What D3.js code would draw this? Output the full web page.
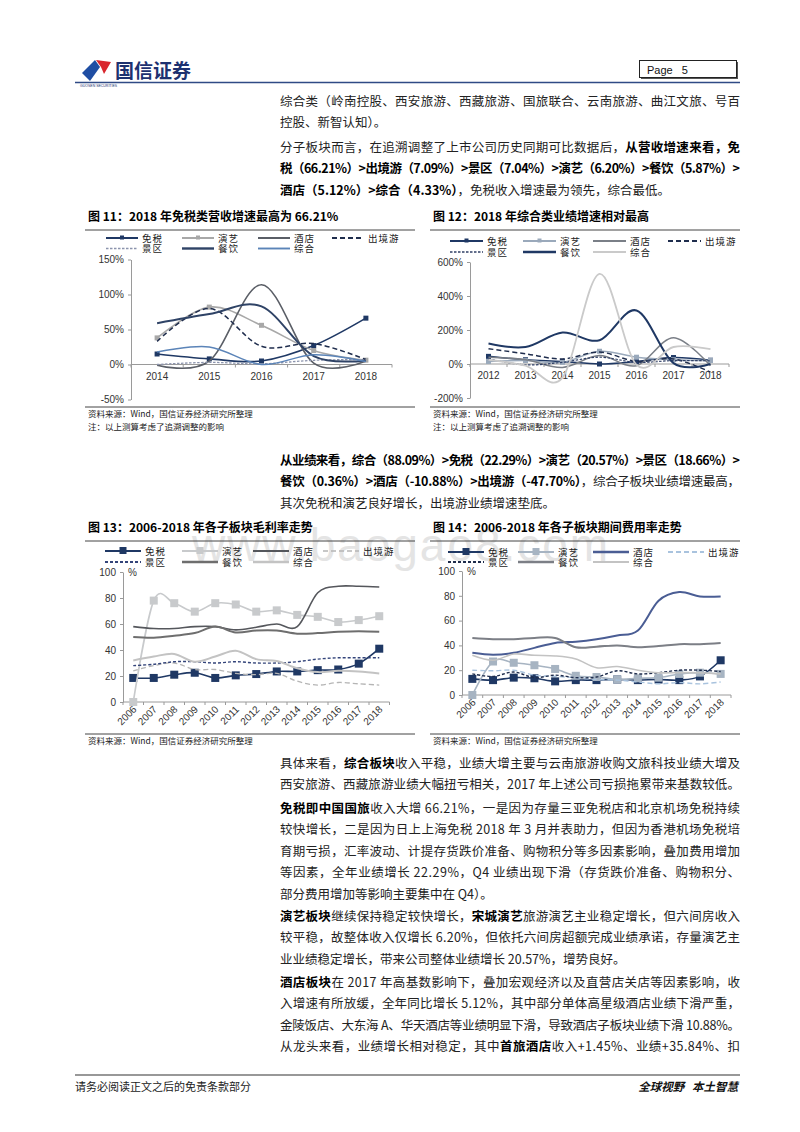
<!DOCTYPE html>
<html lang="zh">
<head>
<meta charset="utf-8">
<title>国信证券 Page 5</title>
<style>
  body { margin: 0; background: #fff; }
  svg text { font-family: "Noto Sans CJK SC", sans-serif; }
  .num { font-family: "Liberation Sans", Arial, sans-serif; }
</style>
<script src="https://cdn.jsdelivr.net/npm/d3@7"></script>
</head>
<body>
<script>

var W = 800, H = 1132;

// ---------- data ----------
var sectors = ["免税", "演艺", "酒店", "出境游", "景区", "餐饮", "综合"];

// 图11: revenue growth (%), rows follow sectors
var years11 = ["2014", "2015", "2016", "2017", "2018"];
var revGrowth11 = [
  [15, 8, 5, 27, 66.21],
  [38, 82, 56, 20, 6.20],
  [-1, 5, 114, 2, 5.12],
  [33, 80, 26, 30, 7.09],
  [0, 3, 1, 6, 7.04],
  [59, 72, 83, 12, 5.87],
  [18, 25, 0, 14, 4.33]
];
var ticks11 = [-50, 0, 50, 100, 150];

// 图12: profit growth (%)
var years12 = ["2012", "2013", "2014", "2015", "2016", "2017", "2018"];
var profitGrowth12 = [
  [45, 25, 15, 0, 15, 38, 22.29],
  [15, 20, 10, 75, 40, 25, 20.57],
  [40, 25, -20, 50, -10, 155, -10.88],
  [90, 60, 30, 70, 15, 30, -47.70],
  [30, -5, 10, 40, 10, 20, 18.66],
  [120, 100, 185, 140, 315, 5, 0.36],
  [25, -10, -80, 530, -5, 100, 88.09]
];
var ticks12 = [-200, 0, 200, 400, 600];

// 图13: gross margin (%), 图14: period expense ratio (%)
var years13 = ["2006", "2007", "2008", "2009", "2010", "2011", "2012",
               "2013", "2014", "2015", "2016", "2017", "2018"];
var grossMargin13 = [
  [18.5, 18.5, 21, 22.5, 18.5, 20.5, 21.5, 23.5, 23.5, 24.5, 25, 29.5, 41],
  [0, 78, 76, 69.5, 76, 75, 69.5, 70.5, 67, 65.5, 61.5, 63, 66],
  [58, 56.5, 56.5, 58, 58, 55.5, 57.5, 60, 58, 84, 89, 89, 88.5],
  [24, 28, 30, 25, 25, 22, 21, 22, 16, 13, 15, 14, 13],
  [28, 29, 31, 31, 30, 31, 30, 30, 31, 33, 34, 34, 34],
  [50, 49.5, 51, 53, 58, 53.5, 55, 55, 52.5, 53, 54, 54.5, 54],
  [32, 35, 37, 31, 35, 39.5, 33, 31.5, 26, 23, 24, 23.5, 22]
];
var expenseRatio14 = [
  [13, 12, 14, 13.5, 11, 12, 12, 12.5, 12, 12.5, 12, 15, 28],
  [0, 27, 26, 24, 21, 15.5, 14.5, 12.5, 13.5, 14, 17, 18, 17],
  [34, 32.5, 34, 38, 42, 43, 45, 48, 52, 76, 83, 79.5, 79.5],
  [20, 19.5, 20, 16, 15, 14, 12.5, 12, 10.5, 9, 10, 9, 10.5],
  [17, 15, 18.5, 14, 16, 14, 14.5, 19.5, 17, 18, 20, 20, 19],
  [46, 45, 45, 46, 46, 38.5, 39, 40, 38.5, 39.5, 41, 41, 42],
  [32, 28, 33, 32, 31.5, 29, 22, 23, 20, 18, 18, 18, 17]
];
var ticks13 = [0, 20, 40, 60, 80, 100];

// ---------- page text ----------
var paras = [
  {y: 101, lines: [
    {j: 1, s: [["综合类（岭南控股、西安旅游、西藏旅游、国旅联合、云南旅游、曲江文旅、号百", 0]]},
    {j: 0, s: [["控股、新智认知）。", 0]]}]},
  {y: 147, lines: [
    {j: 1, s: [["分子板块而言，在追溯调整了上市公司历史同期可比数据后，", 0], ["从营收增速来看，免", 1]]},
    {j: 1, s: [["税（66.21%）>出境游（7.09%）>景区（7.04%）>演艺（6.20%）>餐饮（5.87%）>", 1]]},
    {j: 0, s: [["酒店（5.12%）>综合（4.33%）", 1], ["，免税收入增速最为领先，综合最低。", 0]]}]},
  {y: 460, lines: [
    {j: 1, s: [["从业绩来看，综合（88.09%）>免税（22.29%）>演艺（20.57%）>景区（18.66%）>", 1]]},
    {j: 1, s: [["餐饮（0.36%）>酒店（-10.88%）>出境游（-47.70%）", 1], ["，综合子板块业绩增速最高，", 0]]},
    {j: 0, s: [["其次免税和演艺良好增长，出境游业绩增速垫底。", 0]]}]},
  {y: 763, lines: [
    {j: 1, s: [["具体来看，", 0], ["综合板块", 1], ["收入平稳，业绩大增主要与云南旅游收购文旅科技业绩大增及", 0]]},
    {j: 1, s: [["西安旅游、西藏旅游业绩大幅扭亏相关，2017 年上述公司亏损拖累带来基数较低。", 0]]}]},
  {y: 808, lines: [
    {j: 1, s: [["免税即中国国旅", 1], ["收入大增 66.21%，一是因为存量三亚免税店和北京机场免税持续", 0]]},
    {j: 1, s: [["较快增长，二是因为日上上海免税 2018 年 3 月并表助力，但因为香港机场免税培", 0]]},
    {j: 1, s: [["育期亏损，汇率波动、计提存货跌价准备、购物积分等多因素影响，叠加费用增加", 0]]},
    {j: 1, s: [["等因素，全年业绩增长 22.29%，Q4 业绩出现下滑（存货跌价准备、购物积分、", 0]]},
    {j: 0, s: [["部分费用增加等影响主要集中在 Q4）。", 0]]}]},
  {y: 916, lines: [
    {j: 1, s: [["演艺板块", 1], ["继续保持稳定较快增长，", 0], ["宋城演艺", 1], ["旅游演艺主业稳定增长，但六间房收入", 0]]},
    {j: 1, s: [["较平稳，故整体收入仅增长 6.20%，但依托六间房超额完成业绩承诺，存量演艺主", 0]]},
    {j: 0, s: [["业业绩稳定增长，带来公司整体业绩增长 20.57%，增势良好。", 0]]}]},
  {y: 982, lines: [
    {j: 1, s: [["酒店板块", 1], ["在 2017 年高基数影响下，叠加宏观经济以及直营店关店等因素影响，收", 0]]},
    {j: 1, s: [["入增速有所放缓，全年同比增长 5.12%，其中部分单体高星级酒店业绩下滑严重，", 0]]},
    {j: 1, s: [["金陵饭店、大东海 A、华天酒店等业绩明显下滑，导致酒店子板块业绩下滑 10.88%。", 0]]},
    {j: 1, s: [["从龙头来看，业绩增长相对稳定，其中", 0], ["首旅酒店", 1], ["收入+1.45%、业绩+35.84%、扣", 0]]}]}
];

var svg = d3.select("body")
  .append("svg")
  .attr("width", W)
  .attr("height", H);

svg.append("rect").attr("width", W).attr("height", H).attr("fill", "#fff");

// watermark
svg.append("text")
  .attr("class", "num")
  .attr("x", 192).attr("y", 561)
  .attr("font-size", 46)
  .attr("textLength", 416)
  .attr("fill", "#e4e4e4")
  .text("www.baogao8.com");

// ---------- header ----------
svg.append("path")
  .attr("d", "M82,73 L95,60 L100,67 L90,81 Z")
  .attr("fill", "#1f4ea3");
svg.append("path")
  .attr("d", "M96,60 L111,62 L104,74 L101,67 Z")
  .attr("fill", "#d9272e");
svg.append("text")
  .attr("x", 115).attr("y", 78)
  .attr("font-size", 19).attr("font-weight", "bold")
  .attr("fill", "#1d3170")
  .text("国信证券");
svg.append("text")
  .attr("class", "num")
  .attr("x", 80).attr("y", 86.5)
  .attr("font-size", 3.5).attr("fill", "#1d3170")
  .text("GUOSEN SECURITIES");
svg.append("line")
  .attr("x1", 75).attr("x2", 740).attr("y1", 82.5).attr("y2", 82.5)
  .attr("stroke", "#2f4a85").attr("stroke-width", 1.6);
svg.append("rect")
  .attr("x", 641).attr("y", 62).attr("width", 97).attr("height", 17)
  .attr("fill", "#555");
svg.append("rect")
  .attr("x", 639.5).attr("y", 60.5).attr("width", 97).attr("height", 17)
  .attr("fill", "#fff").attr("stroke", "#222").attr("stroke-width", 1);
svg.append("text")
  .attr("class", "num")
  .attr("x", 647).attr("y", 73.5)
  .attr("font-size", 11).attr("fill", "#111")
  .attr("xml:space", "preserve")
  .text("Page   5");

// ---------- body text ----------
var lineH = 21.5;
paras.forEach(function(p) {
  p.lines.forEach(function(ln, i) {
    var t = svg.append("text")
      .attr("x", 280)
      .attr("y", p.y + i * lineH + 4.5)
      .attr("font-size", 12.5)
      .attr("fill", "#1a1a1a");
    if (ln.j) t.attr("textLength", 460).attr("lengthAdjust", "spacing");
    ln.s.forEach(function(seg) {
      t.append("tspan")
        .attr("font-weight", seg[1] ? "bold" : "normal")
        .attr("fill", seg[1] ? "#000" : "#222")
        .text(seg[0]);
    });
  });
});

// ---------- charts ----------
var styles11 = [
  {c: "#1f3864", w: 1.6, m: 5},
  {c: "#a8a8a8", w: 1.6, m: 5},
  {c: "#5a5e66", w: 1.6},
  {c: "#1f2d4d", w: 1.5, dash: "5,3"},
  {c: "#8c94ad", w: 1.3, dash: "2.5,1.5"},
  {c: "#2f4366", w: 2},
  {c: "#5b84b8", w: 1.5}
];
var styles12 = [
  {c: "#1f3864", w: 1.5, m: 5},
  {c: "#9aa9bb", w: 1.5, m: 5},
  {c: "#7a7f87", w: 1.5},
  {c: "#1f2d4d", w: 1.5, dash: "5,3"},
  {c: "#2f3f66", w: 1.2, dash: "2.5,1.5"},
  {c: "#1f3864", w: 2},
  {c: "#cacaca", w: 1.8}
];
var styles13 = [
  {c: "#1f3864", w: 1.6, m: 8},
  {c: "#c8cacc", w: 1.6, m: 8},
  {c: "#55575c", w: 1.6},
  {c: "#b5b5b5", w: 1.3, dash: "5,3"},
  {c: "#33447a", w: 1.4, dash: "3,2"},
  {c: "#6e6e6e", w: 2},
  {c: "#c3c3c3", w: 2}
];
var styles14 = [
  {c: "#1f3864", w: 1.6, m: 8},
  {c: "#a7b4c2", w: 1.6, m: 8},
  {c: "#4a5d94", w: 2},
  {c: "#a9c3de", w: 1.4, dash: "5,3"},
  {c: "#1f2d4d", w: 1.4, dash: "3,2"},
  {c: "#7c7f86", w: 2},
  {c: "#c3c3c3", w: 1.6}
];

function frame(x0, x1, title, yTitle, yTop, yBot, notes) {
  svg.append("text")
    .attr("x", x0 + 3).attr("y", yTitle)
    .attr("font-size", 12).attr("font-weight", "bold").attr("fill", "#000")
    .text(title);
  [yTop, yBot].forEach(function(yy) {
    svg.append("line")
      .attr("x1", x0).attr("x2", x1).attr("y1", yy).attr("y2", yy)
      .attr("stroke", "#444").attr("stroke-width", 1);
  });
  notes.forEach(function(n, i) {
    svg.append("text")
      .attr("x", x0 + 3).attr("y", yBot + 10 + i * 12.5)
      .attr("font-size", 8.5).attr("fill", "#222")
      .text(n);
  });
}

function drawChart(o) {
  var g = svg.append("g");
  var x = d3.scalePoint().domain(o.years).range(o.xr).padding(0.5);
  var y = d3.scaleLinear().domain(o.yd).range(o.yr);
  var y0 = y(0);

  // y axis
  var ga = g.append("g")
    .attr("transform", "translate(" + o.xr[0] + ",0)")
    .call(d3.axisLeft(y).tickValues(o.ticks).tickSize(3).tickSizeOuter(0)
      .tickPadding(4).tickFormat(o.fmt));
  ga.select(".domain").attr("stroke", "#9a9a9a");
  ga.selectAll(".tick line").attr("stroke", "#9a9a9a");
  ga.selectAll(".tick text")
    .attr("class", "num").attr("font-size", 10).attr("fill", "#333");
  if (o.pct) {
    g.append("text").attr("class", "num")
      .attr("x", o.xr[0] + 5).attr("y", y(o.yd[1]) + 4)
      .attr("font-size", 10).attr("fill", "#333").text("%");
  }

  // x axis along zero
  g.append("line")
    .attr("x1", o.xr[0]).attr("x2", o.xr[1]).attr("y1", y0).attr("y2", y0)
    .attr("stroke", "#9a9a9a");
  var step = x.step();
  var bounds = o.years.map(function(d) { return x(d) - step / 2; });
  bounds.push(x(o.years[o.years.length - 1]) + step / 2);
  g.selectAll(".xt").data(bounds).enter().append("line")
    .attr("x1", function(d) { return d; }).attr("x2", function(d) { return d; })
    .attr("y1", y0).attr("y2", y0 + 3)
    .attr("stroke", "#9a9a9a");

  var lab = g.selectAll(".xl").data(o.years).enter().append("text")
    .attr("class", "num")
    .attr("font-size", 10).attr("fill", "#333")
    .text(function(d) { return d; });
  if (o.rotate) {
    lab.attr("text-anchor", "end")
      .attr("transform", function(d) {
        return "translate(" + (x(d) + 4) + "," + (y0 + 8) + ") rotate(-45)";
      });
  } else {
    lab.attr("text-anchor", "middle")
      .attr("x", function(d) { return x(d); })
      .attr("y", y0 + 15);
  }

  // series
  var line = d3.line()
    .x(function(d, i) { return x(o.years[i]); })
    .y(function(d) { return y(d); })
    .curve(d3.curveCatmullRom.alpha(0));

  o.data.forEach(function(vals, k) {
    var st = o.styles[k];
    g.append("path")
      .datum(vals)
      .attr("d", line)
      .attr("fill", "none")
      .attr("stroke", st.c)
      .attr("stroke-width", st.w)
      .attr("stroke-dasharray", st.dash || null);
    if (st.m) {
      g.selectAll(".mk" + k).data(vals).enter().append("rect")
        .attr("x", function(d, i) { return x(o.years[i]) - st.m / 2; })
        .attr("y", function(d) { return y(d) - st.m / 2; })
        .attr("width", st.m).attr("height", st.m)
        .attr("fill", st.c);
    }
  });

  // legend
  sectors.forEach(function(name, k) {
    var st = o.styles[k];
    var lx = o.legX[k % 4], ly = o.legY[Math.floor(k / 4)];
    g.append("line")
      .attr("x1", lx).attr("x2", lx + o.legLen).attr("y1", ly).attr("y2", ly)
      .attr("stroke", st.c).attr("stroke-width", st.w + 0.4)
      .attr("stroke-dasharray", st.dash || null);
    if (st.m) {
      g.append("rect")
        .attr("x", lx + o.legLen / 2 - st.m / 2 + 0.5).attr("y", ly - st.m / 2)
        .attr("width", st.m - 1).attr("height", st.m - 1)
        .attr("fill", st.c);
    }
    g.append("text")
      .attr("x", lx + o.legLen + 4).attr("y", ly + 3.5)
      .attr("font-size", 9.5).attr("fill", "#222")
      .attr("letter-spacing", 1)
      .text(name);
  });
}

var srcNote = "资料来源：Wind，国信证券经济研究所整理";
var adjNote = "注：以上测算考虑了追溯调整的影响";

frame(85, 415, "图 11：2018 年免税类营收增速最高为 66.21%", 221, 230, 407, [srcNote, adjNote]);
frame(430, 740, "图 12：2018 年综合类业绩增速相对最高", 221, 230, 407, [srcNote, adjNote]);
frame(85, 415, "图 13：2006-2018 年各子板块毛利率走势", 532, 541, 734, [srcNote]);
frame(430, 740, "图 14：2006-2018 年各子板块期间费用率走势", 532, 541, 734, [srcNote]);

drawChart({
  years: years11, data: revGrowth11, styles: styles11,
  xr: [131, 392], yd: [-50, 150], yr: [399.5, 259.5],
  ticks: ticks11, fmt: function(d) { return d + "%"; },
  legX: [106, 182, 258, 332], legY: [238, 248.5], legLen: 32
});
drawChart({
  years: years12, data: profitGrowth12, styles: styles12,
  xr: [470, 729], yd: [-200, 600], yr: [398, 262],
  ticks: ticks12, fmt: function(d) { return d + "%"; },
  legX: [450, 523, 593, 668], legY: [241, 252], legLen: 33
});
drawChart({
  years: years13, data: grossMargin13, styles: styles13,
  xr: [123, 389.5], yd: [0, 100], yr: [702, 572],
  ticks: ticks13, fmt: function(d) { return d; }, rotate: true, pct: true,
  legX: [105, 182, 253, 323], legY: [551, 562], legLen: 36
});
drawChart({
  years: years13, data: expenseRatio14, styles: styles14,
  xr: [462, 731], yd: [0, 100], yr: [695, 571],
  ticks: ticks13, fmt: function(d) { return d; }, rotate: true, pct: true,
  legX: [448, 518, 593, 668], legY: [552, 562], legLen: 36
});

// ---------- footer ----------
svg.append("line")
  .attr("x1", 75).attr("x2", 740).attr("y1", 1075).attr("y2", 1075)
  .attr("stroke", "#333").attr("stroke-width", 1.2);
svg.append("text")
  .attr("x", 75).attr("y", 1091)
  .attr("font-size", 11).attr("fill", "#222")
  .text("请务必阅读正文之后的免责条款部分");
svg.append("text")
  .attr("x", 738).attr("y", 1091)
  .attr("text-anchor", "end")
  .attr("font-size", 11.5).attr("font-weight", "bold").attr("font-style", "italic")
  .attr("fill", "#111")
  .attr("xml:space", "preserve")
  .text("全球视野   本土智慧");

</script>
</body>
</html>
